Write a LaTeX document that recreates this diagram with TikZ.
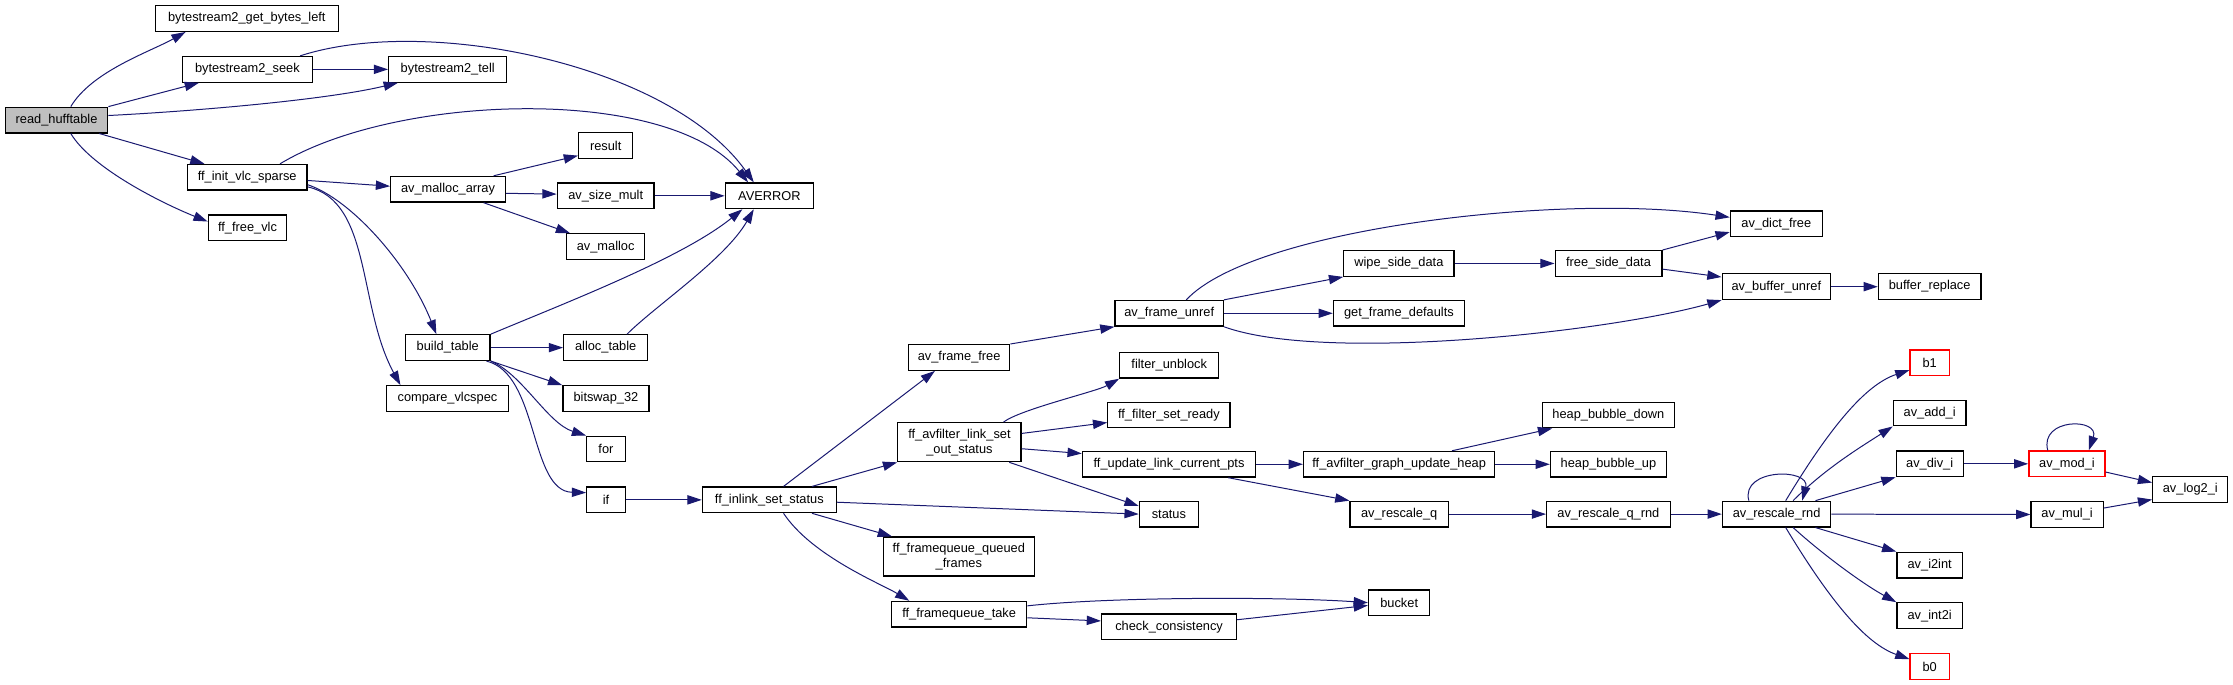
\documentclass[tikz,border=0pt]{standalone}
\usepackage{fontspec}
\setmainfont{Liberation Sans}
\usetikzlibrary{arrows.meta}
\definecolor{edgeblue}{RGB}{25,25,112}
\definecolor{rootgray}{RGB}{191,191,191}
\begin{document}
\begin{tikzpicture}[x=1pt,y=-1pt,
  fn/.style={draw=black,line width=0.9pt,fill=white,minimum height=18,inner sep=0pt,font=\fontsize{9}{10.5}\selectfont},
  fn2/.style={fn,minimum height=27.4,align=center},
  trunc/.style={fn,draw=red},
  call/.style={edgeblue,line width=0.7pt,-{Triangle[length=10pt,width=6.5pt]}}]
\useasboundingbox (0,0) rectangle (1568,481);
\node[fn,fill=rootgray,minimum width=72] (read) at (39.7,84.3) {read\_hufftable};
\node[fn,minimum width=128.6] (bgbl) at (173.3,13) {bytestream2\_get\_bytes\_left};
\node[fn,minimum width=91] (seek) at (173.7,48.7) {bytestream2\_seek};
\node[fn,minimum width=83] (tell) at (314.4,48.7) {bytestream2\_tell};
\node[fn,minimum width=84] (initvlc) at (173.6,124.5) {ff\_init\_vlc\_sparse};
\node[fn,minimum width=55] (freevlc) at (173.8,160) {ff\_free\_vlc};
\node[fn,minimum width=38] (result) at (425.3,102.2) {result};
\node[fn,minimum width=80.5] (malarr) at (314.6,132.9) {av\_malloc\_array};
\node[fn,minimum width=68] (sizemult) at (425.3,137.5) {av\_size\_mult};
\node[fn,minimum width=62] (averror) at (540.3,137.5) {AVERROR};
\node[fn,minimum width=55] (avmalloc) at (425.3,173.2) {av\_malloc};
\node[fn,minimum width=59.5] (buildtab) at (314.4,244.1) {build\_table};
\node[fn,minimum width=59] (alloctab) at (425.3,244.1) {alloc\_table};
\node[fn,minimum width=85.6] (cmpvlc) at (314.2,279.9) {compare\_vlcspec};
\node[fn,minimum width=60.5] (bitswap) at (425.5,279.9) {bitswap\_32};
\node[fn,minimum width=27] (forn) at (425.5,315.3) {for};
\node[fn,minimum width=27] (ifn) at (425.5,351) {if};
\node[fn,minimum width=94] (inlink) at (540.2,351) {ff\_inlink\_set\_status};
\node[fn,minimum width=71] (framefree) at (673.5,251) {av\_frame\_free};
\node[fn,minimum width=76] (frameunref) at (821,220) {av\_frame\_unref};
\node[fn,minimum width=77.4] (wipe) at (982.3,185) {wipe\_side\_data};
\node[fn,minimum width=92] (getdef) at (982.3,220) {get\_frame\_defaults};
\node[fn,minimum width=75] (freeside) at (1129.5,185) {free\_side\_data};
\node[fn,minimum width=64.5] (dictfree) at (1247.3,157.2) {av\_dict\_free};
\node[fn,minimum width=76] (bufunref) at (1247.3,201.3) {av\_buffer\_unref};
\node[fn,minimum width=72] (bufrepl) at (1355,201.3) {buffer\_replace};
\node[fn,minimum width=69.4] (unblock) at (821,256.5) {filter\_unblock};
\node[fn,minimum width=85.8] (setready) at (820.8,291.4) {ff\_filter\_set\_ready};
\node[fn2,minimum width=86.6] (linkset) at (673.7,310.5) {ff\_avfilter\_link\_set\\\_out\_status};
\node[fn,minimum width=121.7] (updpts) at (820.9,326) {ff\_update\_link\_current\_pts};
\node[fn,minimum width=134.3] (updheap) at (982.5,326) {ff\_avfilter\_graph\_update\_heap};
\node[fn,minimum width=92.8] (bubdown) at (1129.4,291.4) {heap\_bubble\_down};
\node[fn,minimum width=81.4] (bubup) at (1129.4,326) {heap\_bubble\_up};
\node[fn,minimum width=41.5] (status) at (820.8,361) {status};
\node[fn,minimum width=69] (rescaleq) at (982.5,361) {av\_rescale\_q};
\node[fn,minimum width=86.7] (rescaleqrnd) at (1129.4,361) {av\_rescale\_q\_rnd};
\node[fn,minimum width=76] (rescalernd) at (1247.5,361) {av\_rescale\_rnd};
\node[fn2,minimum width=106] (queued) at (673.3,390.8) {ff\_framequeue\_queued\\\_frames};
\node[fn,minimum width=95] (fqtake) at (673.5,431.3) {ff\_framequeue\_take};
\node[fn,minimum width=94.7] (check) at (820.9,440.2) {check\_consistency};
\node[fn,minimum width=43] (bucket) at (982.5,423.2) {bucket};
\node[trunc,minimum width=27.5] (bone) at (1355,254.7) {b1};
\node[fn,minimum width=51] (addi) at (1355,290) {av\_add\_i};
\node[fn,minimum width=47] (divi) at (1355,325.7) {av\_div\_i};
\node[trunc,minimum width=53.5] (modi) at (1451.4,325.7) {av\_mod\_i};
\node[fn,minimum width=52.7] (logtwo) at (1538,343.6) {av\_log2\_i};
\node[fn,minimum width=50.6] (muli) at (1451.5,361.3) {av\_mul\_i};
\node[fn,minimum width=46] (itwoint) at (1355,396.8) {av\_i2int};
\node[fn,minimum width=46] (inttwoi) at (1355,432.3) {av\_int2i};
\node[trunc,minimum width=27.5] (bzero) at (1355,468) {b0};
\draw[call] ([xshift=10pt]read.north) .. controls +(15,-25) and +(-25,14) .. ([xshift=-43pt]bgbl.south);
\draw[call] (read.north east) -- ([xshift=-34pt]seek.south);
\draw[call] (read.5) .. controls +(60,-3) and +(-50,12) .. ([xshift=-35pt]tell.south);
\draw[call] (seek) -- (tell);
\draw[call] ([xshift=37pt]seek.north) .. controls +(89,-29) and +(-59,-83) .. ([xshift=-11pt]averror.north);
\draw[call] ([xshift=23pt]initvlc.north) .. controls +(83,-50) and +(-55,-68) .. ([xshift=-15pt]averror.north);
\draw[call] ([xshift=30pt]read.south) -- ([xshift=-30pt]initvlc.north);
\draw[call] ([xshift=10pt]read.south) .. controls +(15,25) and +(-30,-12) .. (freevlc.171);
\draw[call] (initvlc.-3) -- (malarr.177);
\draw[call] (initvlc.-7) .. controls +(30,10) and +(-20,-50) .. ([xshift=-8pt]buildtab.north);
\draw[call] (initvlc.-9) .. controls +(45,10) and +(-30,-55) .. ([xshift=-33pt]cmpvlc.north);
\draw[call] ([xshift=32pt]malarr.north) -- (result.200);
\draw[call] (malarr.-4) -- (sizemult.178);
\draw[call] ([xshift=25pt]malarr.south) -- ([xshift=-25pt]avmalloc.north);
\draw[call] (sizemult) -- (averror);
\draw[call] (buildtab.north east) .. controls +(55,-23) and +(-42,34) .. ([xshift=-19pt]averror.south);
\draw[call] (buildtab) -- (alloctab);
\draw[call] ([xshift=15pt]alloctab.north) .. controls +(20,-20) and +(-20,35) .. ([xshift=-11pt]averror.south);
\draw[call] (buildtab.south east) -- (bitswap.north west);
\draw[call] (buildtab.south east) .. controls +(22,9) and +(-27,-8.5) .. (forn.north west);
\draw[call] ([xshift=-3pt]buildtab.south east) .. controls +(37,9) and +(-40,-1) .. (ifn.160);
\draw[call] (ifn) -- (inlink);
\draw[call] ([xshift=10pt]inlink.north) -- ([xshift=-17pt]framefree.south);
\draw[call] ([xshift=30pt]inlink.north) -- (linkset.south west);
\draw[call] (inlink.-2) -- (status.west);
\draw[call] ([xshift=30pt]inlink.south) -- ([xshift=-47pt]queued.north);
\draw[call] ([xshift=10pt]inlink.south) .. controls +(20,30) and +(-20,-12) .. ([xshift=-35pt]fqtake.north);
\draw[call] (framefree.north east) -- (frameunref.south west);
\draw[call] ([xshift=12pt]frameunref.north) .. controls (880,160) and (1100,135) .. (dictfree.172);
\draw[call] (frameunref.north east) -- (wipe.south west);
\draw[call] (frameunref) -- (getdef);
\draw[call] (frameunref.south east) .. controls (930,255) and (1130,233) .. (bufunref.south west);
\draw[call] (wipe) -- (freeside);
\draw[call] (freeside.north east) -- (dictfree.190);
\draw[call] (freeside.-6) -- (bufunref.170);
\draw[call] (bufunref) -- (bufrepl);
\draw[call] ([xshift=31pt]linkset.north) .. controls +(12,-9) and +(-16,9) .. (unblock.south west);
\draw[call] (linkset.8) -- (setready.187);
\draw[call] (linkset.-6) -- (updpts.173);
\draw[call] ([xshift=35pt]linkset.south) -- (status.165);
\draw[call] (updpts) -- (updheap);
\draw[call] ([xshift=41.6pt]updpts.south) -- (rescaleq.north west);
\draw[call] ([xshift=37pt]updheap.north) -- ([xshift=-39.5pt]bubdown.south);
\draw[call] (updheap) -- (bubup);
\draw[call] (rescaleq) -- (rescaleqrnd);
\draw[call] (rescaleqrnd) -- (rescalernd);
\draw[call] ([xshift=-19.5pt]rescalernd.north) .. controls +(-6,-23) and +(6,-23) .. ([xshift=18pt]rescalernd.north);
\draw[call] ([xshift=6.4pt]rescalernd.north) .. controls (1285,300) and (1310,270) .. (bone.200);
\draw[call] ([xshift=11.6pt]rescalernd.north) .. controls +(22,-22) and +(-25,16) .. (addi.south west);
\draw[call] ([xshift=27.3pt]rescalernd.north) -- (divi.south west);
\draw[call] (rescalernd) -- (muli);
\draw[call] ([xshift=27.3pt]rescalernd.south) -- (itwoint.north west);
\draw[call] ([xshift=11.6pt]rescalernd.south) .. controls +(22,20) and +(-22,-12) .. (inttwoi.north west);
\draw[call] ([xshift=6.4pt]rescalernd.south) .. controls (1285,422) and (1310,452) .. (bzero.160);
\draw[call] (divi) -- (modi);
\draw[call] ([xshift=-13.5pt]modi.north) .. controls +(-6,-23) and +(8,-23) .. ([xshift=15.3pt]modi.north);
\draw[call] (modi.-12) -- (logtwo.170);
\draw[call] (muli.10) -- (logtwo.195);
\draw[call] (fqtake.7) .. controls (780,419) and (900,419) .. (bucket.west);
\draw[call] (fqtake.-3) -- (check.175);
\draw[call] (check.6) -- (bucket.185);
\end{tikzpicture}
\end{document}
